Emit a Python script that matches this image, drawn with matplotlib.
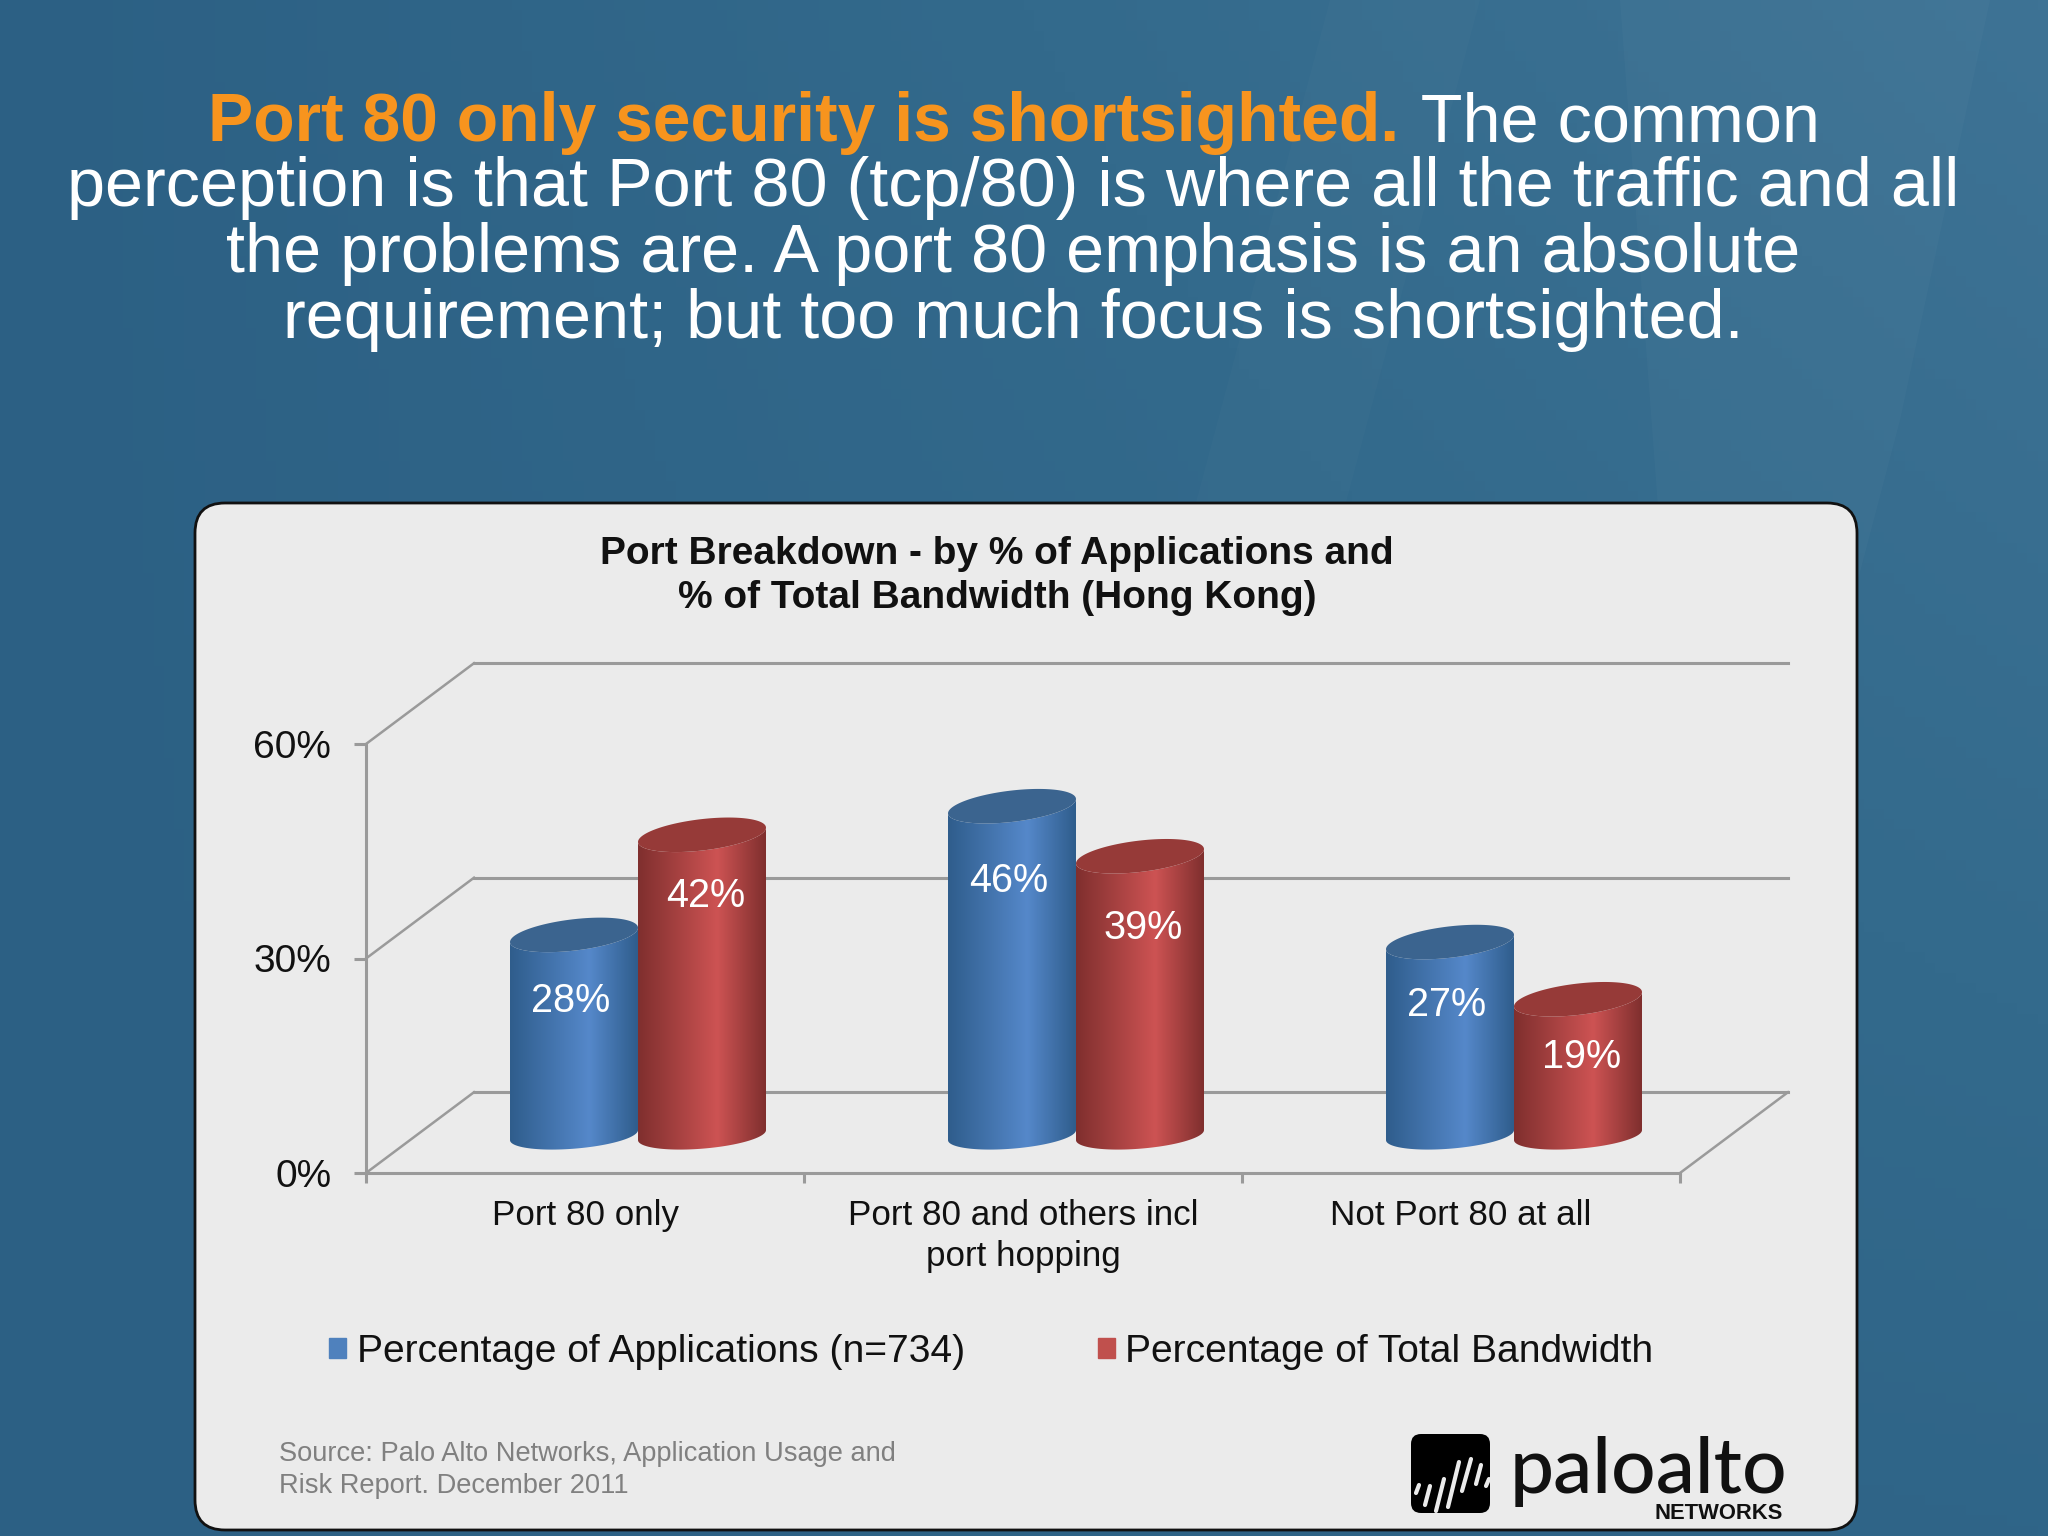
import matplotlib
matplotlib.use("Agg")
import matplotlib.pyplot as plt
import matplotlib.patches as pc
from matplotlib.colors import LinearSegmentedColormap
import numpy as np

plt.rcParams['font.family'] = ['Liberation Sans', 'DejaVu Sans']

categories = ["Port 80 only", "Port 80 and others incl\nport hopping", "Not Port 80 at all"]
applications = [28, 46, 27]
bandwidth = [42, 39, 19]
y_ticks = [0, 30, 60]
y_labels = ["0%", "30%", "60%"]
series_names = ["Percentage of Applications (n=734)", "Percentage of Total Bandwidth"]
# how far below the bar top each value label sits, in % units
app_label_drop = [9.2, 10.5, 8.8]
band_label_drop = [8.5, 10.1, 8.1]

headline_orange = "Port 80 only security is shortsighted."
headline_rest = " The common"
headline_lines = ["perception is that Port 80 (tcp/80) is where all the traffic and all",
                  "the problems are. A port 80 emphasis is an absolute",
                  "requirement; but too much focus is shortsighted."]
chart_title = "Port Breakdown - by % of Applications and\n% of Total Bandwidth (Hong Kong)"
source_text = "Source: Palo Alto Networks, Application Usage and\nRisk Report. December 2011"

W, H = 2048, 1536
fig = plt.figure(figsize=(W / 100, H / 100), dpi=100)

# overlay in pixel coords for the slide itself
ov = fig.add_axes([0, 0, 1, 1])
ov.set_xlim(0, W)
ov.set_ylim(H, 0)
ov.axis('off')

xx, yy = np.meshgrid(np.linspace(0, 1, 200), np.linspace(0, 1, 150))
shade = np.clip(xx * (1 - 0.75 * yy), 0, 1)
bg_cmap = LinearSegmentedColormap.from_list("bg", ["#2c6084", "#336a8c", "#3e7395"])
ov.imshow(shade, extent=(0, W, H, 0), cmap=bg_cmap, vmin=0, vmax=1, aspect='auto', zorder=0)
ov.add_patch(pc.Polygon([(1620, 0), (1990, 0), (1900, 420), (1800, 800), (1680, 800)], color="white", alpha=0.025, lw=0, zorder=1))
ov.add_patch(pc.Polygon([(1330, 0), (1480, 0), (1320, 600), (1170, 600)], color="white", alpha=0.015, lw=0, zorder=1))

ov.add_patch(pc.FancyBboxPatch((195, 503), 1662, 1027, boxstyle="round,pad=0,rounding_size=30",
                               fc="#ebebeb", ec="#111111", lw=2, zorder=2))

# headline
orange = ov.text(208, 141, headline_orange, color="#f7941e", fontsize=48.9, fontweight='bold', zorder=3)
fig.canvas.draw()
ext = orange.get_window_extent()
ov.text(ext.x1 + 4, 141, headline_rest, color="white", fontsize=49.2, zorder=3)
for n, line in enumerate(headline_lines):
    ov.text(1013, 206.5 + n * 65.5, line, color="white", fontsize=49.2, ha='center', zorder=3)

ov.text(997, 576, chart_title, color="#111111", fontsize=28, fontweight='bold', ha='center',
        va='center', linespacing=1.29, zorder=3)
ov.text(279, 1470, source_text, color="#808080", fontsize=19.6, va='center', linespacing=1.28, zorder=3)

# logo
ov.add_patch(pc.FancyBboxPatch((1411, 1434), 79, 79, boxstyle="round,pad=0,rounding_size=10", fc="black", lw=0, zorder=3))
logo_bars = [(1416, 1493, 1419, 1485), (1425, 1505, 1430, 1486), (1436, 1511, 1444, 1479),
             (1448, 1507, 1459, 1462), (1462, 1491, 1471, 1459), (1476, 1484, 1481, 1465), (1486, 1486, 1489, 1479)]
for x0, y0, x1, y1 in logo_bars:
    ov.plot([x0, x1], [y0, y1], color="#ebebeb", lw=3, solid_capstyle='round', zorder=4)
ov.text(1510, 1493, "paloalto", color="#111111", fontsize=56.5, fontweight='medium',
        family=['Lato', 'DejaVu Sans'], zorder=3)
ov.text(1783, 1519, "NETWORKS", color="#111111", fontsize=15.8, fontweight='bold', ha='right', zorder=3)
ov.set_xlim(0, W)
ov.set_ylim(H, 0)

# chart axes sit on the front plane of the fake 3D box
ax_left, ax_right, ax_bottom, ax_top = 366, 1680, 1173, 744
ax = fig.add_axes([ax_left / W, 1 - ax_bottom / H, (ax_right - ax_left) / W, (ax_bottom - ax_top) / H])
ax.patch.set_alpha(0)
ax.set_xlim(0, 3)
ax.set_ylim(0, 60)

grid_col = "#9a9a9a"
wall_dx = 108 / 438.0
wall_dy = 11.3
for v in y_ticks:
    ax.plot([0, wall_dx], [v, v + wall_dy], color=grid_col, lw=1.8, clip_on=False, zorder=1)
    ax.plot([wall_dx, 3 + wall_dx], [v + wall_dy, v + wall_dy], color=grid_col, lw=2.2, clip_on=False, zorder=1)
ax.plot([3, 3 + wall_dx], [0, wall_dy], color=grid_col, lw=1.8, clip_on=False, zorder=1)

for s in ['top', 'right']:
    ax.spines[s].set_visible(False)
for s in ['left', 'bottom']:
    ax.spines[s].set_color(grid_col)
    ax.spines[s].set_linewidth(2.2)
ax.set_yticks(y_ticks)
ax.set_yticklabels(y_labels)
ax.set_xticks([0, 1, 2, 3])
ax.set_xticklabels([])
ax.set_xticks([0.5, 1.5, 2.5], minor=True)
ax.set_xticklabels(categories, minor=True, linespacing=1.29)
ax.tick_params(axis='y', length=9, width=2.2, color=grid_col, labelsize=28, labelcolor="#111111", pad=16)
ax.tick_params(axis='x', which='major', length=7, width=2.2, color=grid_col)
ax.tick_params(axis='x', which='minor', length=0, labelsize=25.2, labelcolor="#111111", pad=19)

bar_half = 64 / 438.0
depth_dx = 53 / 438.0
depth_dy = 5.3
top_tilt = 1.0
base_tilt = 0.7
top_b = 2.2
base_b = 1.9


def cylinder(cx, value, side, mid, top, drop, shift, z):
    t = np.linspace(0, np.pi, 60)
    ex = -bar_half * np.cos(t)
    bx = cx + ex
    y1 = depth_dy + value
    # lower arc of the base, then back along the lower arc of the top
    by = depth_dy - base_b * np.sin(t) + base_tilt * ex / bar_half
    ty = y1 - top_b * np.sin(t) + top_tilt * ex / bar_half
    body = np.column_stack([np.r_[bx, bx[::-1]], np.r_[by, ty[::-1]]])
    cmap = LinearSegmentedColormap.from_list("cyl", [(0, side), (0.62, mid), (1, side)])
    im = ax.imshow(np.linspace(0, 1, 256).reshape(1, -1), cmap=cmap, aspect='auto', zorder=z,
                   extent=(cx - bar_half, cx + bar_half, by.min() - 1, y1 + 3))
    patch = pc.Polygon(body, closed=True, transform=ax.transData, fc='none', lw=0)
    ax.add_patch(patch)
    im.set_clip_path(patch)
    top_x = np.r_[bx, bx[::-1]]
    top_y = np.r_[ty, (y1 + top_b * np.sin(t) + top_tilt * ex / bar_half)[::-1]]
    ax.fill(top_x, top_y, color=top, lw=0, zorder=z + 0.1)
    ax.text(cx + shift, y1 - drop, "%d%%" % value, color="white", fontsize=28.5,
            ha='center', va='center', zorder=z + 0.2)


for i in range(len(categories)):
    c = i + 0.5 + depth_dx
    cylinder(c - bar_half, applications[i], "#2f5d8c", "#5588ca", "#3b648f", app_label_drop[i], -0.008, 3 + i)
    cylinder(c + bar_half, bandwidth[i], "#7f2f2e", "#cd5353", "#963a38", band_label_drop[i], 0.008, 3.5 + i)
ax.set_xlim(0, 3)
ax.set_ylim(0, 60)

handles = [pc.Patch(color="#4f81bd"), pc.Patch(color="#c0504d")]
ax.legend(handles, series_names, loc='center left', bbox_to_anchor=(329, 1352), bbox_transform=ov.transData,
          ncol=2, frameon=False, fontsize=28.1, handlelength=0.44, handleheight=0.44,
          handletextpad=0.27, columnspacing=3.4, labelcolor="#111111", borderpad=0, borderaxespad=0)

fig.savefig("out.png", dpi=100)
